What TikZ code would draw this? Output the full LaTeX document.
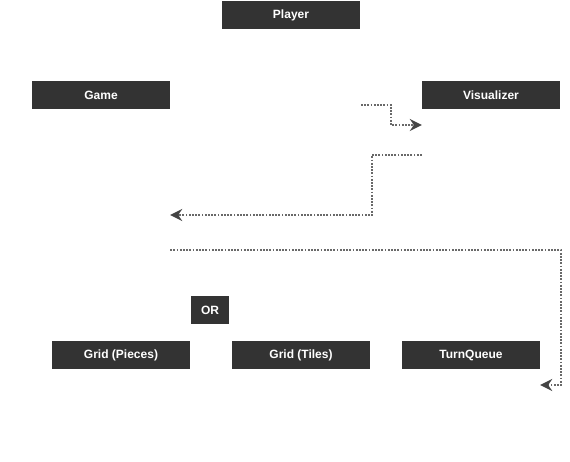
\documentclass[tikz,border=0pt]{standalone}
\usepackage{fontspec}
\setmainfont{Liberation Sans}
\usetikzlibrary{arrows.meta, positioning}
\definecolor{boxdk}{RGB}{51,51,51}
\definecolor{linegrey}{RGB}{105,105,105}
\definecolor{tipdk}{RGB}{68,68,68}

\begin{document}
\begin{tikzpicture}[
  x=1pt, y=-1pt,
  font=\fontsize{12}{14}\selectfont\bfseries,
  cbox/.style={rectangle, fill=boxdk, text=white, inner sep=0pt,
               minimum width=138pt, minimum height=28pt},
  obox/.style={cbox, minimum width=38pt},
  fl/.style={-{Stealth[length=12pt, width=12pt, inset=4pt, color=tipdk]},
             linegrey, line width=1.8pt, dash pattern=on 1.8pt off 1.4pt}
]
\useasboundingbox (0,0) rectangle (570,461);

% top row
\node[cbox] (player) at (291,15) {Player};
\node[cbox] (game) at (101,95) {Game};
\node[cbox] (vis) at (491,95) {Visualizer};

% bottom row
\node[obox] (or) at (210,310) {OR};
\node[cbox] (gridp) at (121,355) {Grid (Pieces)};
\node[cbox] (gridt) at (301,355) {Grid (Tiles)};
\node[cbox] (tq) at (471,355) {TurnQueue};

% loose connector ends
\coordinate (a1) at (361,105);
\coordinate (a2) at (vis.west |- 0,125);
\coordinate (b1) at (vis.west |- 0,155);
\coordinate (b2) at (game.east |- 0,215);
\coordinate (c1) at (game.east |- 0,250);
\coordinate (c2) at (tq.east |- 0,385);

\draw[fl] (a1) -- (391,105) |- (a2);
\draw[fl] (b1) -- (372,155) |- (b2);
\draw[fl] (c1) -- (561,250) |- (c2);

\end{tikzpicture}
\end{document}
